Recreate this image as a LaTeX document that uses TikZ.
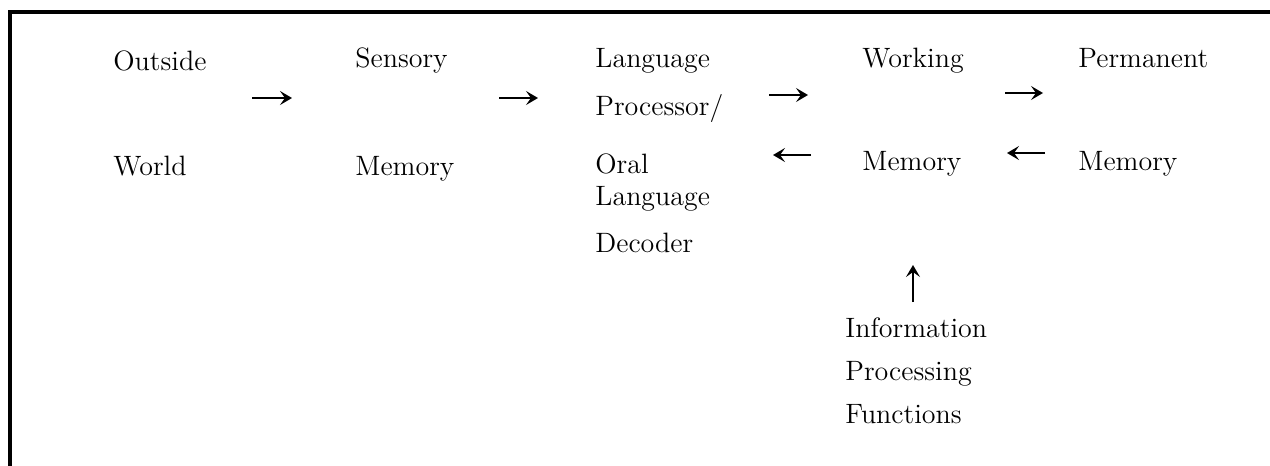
\documentclass[tikz,border=0pt]{standalone}
\usetikzlibrary{arrows.meta}
\begin{document}
\begin{tikzpicture}[x=0.5pt,y=-0.5pt,
  lbl/.style={inner sep=0pt,anchor=base west,font=\fontsize{14}{16}\selectfont},
  arr/.style={line width=0.9pt,-{Stealth[length=6pt,width=7pt,inset=2.5pt]}},
  frame/.style={line width=1.6pt,line cap=rect}]
\useasboundingbox (0,0) rectangle (1270,466);
% frame
\coordinate (fl) at (10,466);
\coordinate (ftl) at (10,12);
\coordinate (ftr) at (1270,12);
\draw[frame] (fl) -- (ftl) -- (ftr);
% column 1
\node[lbl] (outside) at (113,70) {Outside};
\node[lbl] (world) at (113,175) {World};
% column 2
\node[lbl] (sensory) at (355,68) {Sensory};
\node[lbl] (smem) at (355,175) {Memory};
% column 3
\node[lbl] (lang) at (595,68) {Language};
\node[lbl] (proc) at (595,115) {Processor/};
\node[lbl] (oral) at (595,173) {Oral};
\node[lbl] (lang2) at (595,205) {Language};
\node[lbl] (dec) at (595,252) {Decoder};
% column 4
\node[lbl] (working) at (862,67) {Working};
\node[lbl] (wmem) at (862,170) {Memory};
% column 5
\node[lbl] (perm) at (1078,67) {Permanent};
\node[lbl] (pmem) at (1078,170) {Memory};
% bottom
\node[lbl] (info) at (845,337) {Information};
\node[lbl] (procg) at (845,380) {Processing};
\node[lbl] (func) at (845,423) {Functions};
% arrow endpoints
\coordinate (a1s) at (252,98);  \coordinate (a1e) at (292,98);
\coordinate (a2s) at (499,98);  \coordinate (a2e) at (538,98);
\coordinate (a3s) at (769,95);  \coordinate (a3e) at (808,95);
\coordinate (a4s) at (1005,93); \coordinate (a4e) at (1043,93);
\coordinate (b1s) at (811,155); \coordinate (b1e) at (773,155);
\coordinate (b2s) at (1045,153);\coordinate (b2e) at (1007,153);
\coordinate (ups) at (913,302); \coordinate (upe) at (913,265);
\draw[arr] (a1s) -- (a1e);
\draw[arr] (a2s) -- (a2e);
\draw[arr] (a3s) -- (a3e);
\draw[arr] (a4s) -- (a4e);
\draw[arr] (b1s) -- (b1e);
\draw[arr] (b2s) -- (b2e);
\draw[arr] (ups) -- (upe);
\end{tikzpicture}
\end{document}
